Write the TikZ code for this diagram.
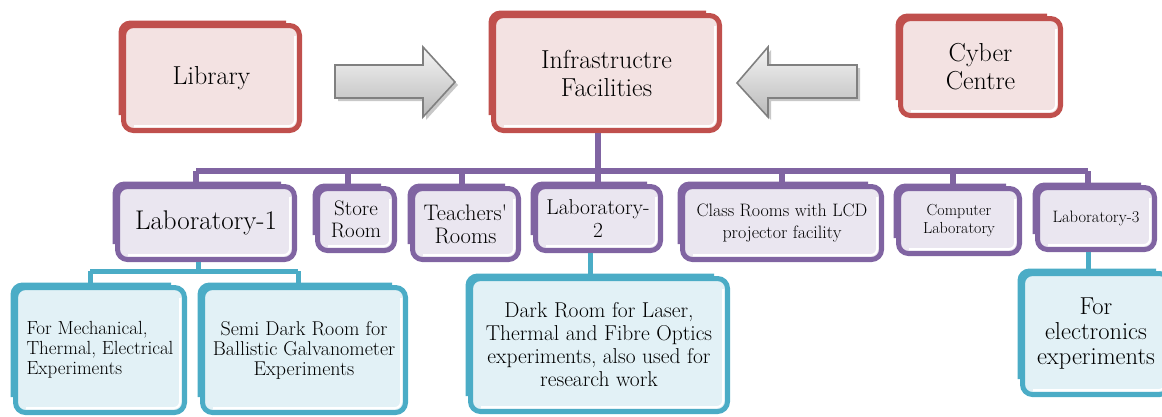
\documentclass[tikz,border=0pt]{standalone}
\definecolor{cred}{RGB}{192,80,77}
\definecolor{cpur}{RGB}{128,100,162}
\definecolor{ctea}{RGB}{75,172,198}
\definecolor{tred}{RGB}{243,226,226}
\definecolor{tpur}{RGB}{234,230,240}
\definecolor{ttea}{RGB}{226,241,246}
\definecolor{carr}{RGB}{128,128,128}
\definecolor{cshd}{RGB}{200,200,200}
% name, x0, y0, x1, y1, color, tint, node options, text
\newcommand\mkbox[9]{%
  \pgfmathsetmacro\bcx{(#2+#4)/2+1.5}%
  \pgfmathsetmacro\bcy{(#3+#5)/2+1.5}%
  \pgfmathsetmacro\bw{#4-#2-8}%
  \pgfmathsetmacro\bh{#5-#3-8}%
  \node[draw=#6, fill=#7, line width=5pt, rounded corners=10pt, inner sep=0pt,
        minimum width=\bw pt, minimum height=\bh pt, #8] (#1) at (\bcx,\bcy) {#9};
  \draw[white, line width=2pt, rounded corners=6pt] (#4-7,#3+16) -- (#4-7,#5-7) -- (#2+16,#5-7);
  \draw[#6, line width=4pt, rounded corners=10pt] (#2+2.5,#5-18) -- (#2+2.5,#3+2.5) -- (#4-16,#3+2.5);
}
\tikzset{
  pline/.style={cpur, line width=6pt},
  tline/.style={ctea, line width=5pt},
  blockarrow/.style={top color=gray!8, bottom color=gray!55, draw=carr, line width=1.6pt},
}
\begin{document}
\begin{tikzpicture}[x=1pt,y=-1pt]
\useasboundingbox (0,0) rectangle (1162,416);

% top row
\mkbox{lib}{118}{20}{302}{133}{cred}{tred}{align=center, font={\fontsize{26}{28}\selectfont}}{Library}
\mkbox{infra}{488}{10}{722}{133}{cred}{tred}{align=center, font={\fontsize{26}{28}\selectfont}}{Infrastructre\\Facilities}
\mkbox{cyber}{895}{13}{1063}{118}{cred}{tred}{align=center, font={\fontsize{26}{28}\selectfont}}{Cyber\\Centre}

% block arrows
\fill[cshd] (338,68) -- (426,68) -- (426,50) -- (458,85) -- (426,120) -- (426,101) -- (338,101) -- cycle;
\shade[blockarrow] (335,65) -- (423,65) -- (423,47) -- (455,82) -- (423,117) -- (423,98) -- (335,98) -- cycle;
\fill[cshd] (860,68) -- (771,68) -- (771,50) -- (740,86) -- (771,120) -- (771,101) -- (860,101) -- cycle;
\shade[blockarrow] (857,65) -- (768,65) -- (768,47) -- (737,83) -- (768,117) -- (768,98) -- (857,98) -- cycle;

% second row
\mkbox{lab1}{112}{181}{297}{262}{cpur}{tpur}{align=center, font={\fontsize{27}{28}\selectfont}}{Laboratory-1}
\mkbox{store}{312}{183}{397}{253}{cpur}{tpur}{align=center, font={\fontsize{21}{22}\selectfont}}{Store\\Room}
\mkbox{teach}{407}{183}{521}{262}{cpur}{tpur}{align=center, font={\fontsize{22.5}{23}\selectfont}}{Teachers\textquotesingle\\Rooms}
\mkbox{lab2}{530}{181}{663}{253}{cpur}{tpur}{align=center, font={\fontsize{21.5}{23}\selectfont}}{Laboratory-\\2}
\mkbox{class}{677}{181}{884}{262}{cpur}{tpur}{align=center, font={\fontsize{18}{22}\selectfont}}{Class Rooms with LCD\\projector facility}
\mkbox{comp}{893}{183}{1022}{256}{cpur}{tpur}{align=center, font={\fontsize{16}{18}\selectfont}}{Computer\\Laboratory}
\mkbox{lab3}{1032}{182}{1157}{252}{cpur}{tpur}{align=center, font={\fontsize{16.5}{18}\selectfont}}{Laboratory-3}

% third row
\mkbox{fa}{10}{282}{187}{415}{ctea}{ttea}{align=left, font={\fontsize{19}{20}\selectfont}}{For Mechanical,\\Thermal, Electrical\\Experiments}
\mkbox{fb}{197}{282}{408}{415}{ctea}{ttea}{align=center, font={\fontsize{20}{20}\selectfont}}{Semi Dark Room for\\Ballistic Galvanometer\\Experiments}
\mkbox{dark}{465}{273}{730}{414}{ctea}{ttea}{align=center, font={\fontsize{21.5}{23}\selectfont}}{Dark Room for Laser,\\Thermal and Fibre Optics\\experiments, also used for\\research work}
\mkbox{elec}{1017}{268}{1172}{397}{ctea}{ttea}{align=center, font={\fontsize{24.5}{25}\selectfont}}{For\\electronics\\experiments}

% purple connectors
\coordinate (bus) at (598,171);
\draw[pline] (infra.south -| bus) -- (bus);
\draw[pline] ([xshift=-10pt]lab1.north |- bus) -- ([xshift=-8pt]lab3.north |- bus);
\foreach \n/\s in {lab1/-10,store/-8,teach/-4,lab2/0,class/0,comp/-6,lab3/-8}
  \draw[pline] ([xshift=\s pt]\n.north |- bus) -- ([xshift=\s pt]\n.north);

% teal connectors
\coordinate (tbus) at (0,271);
\draw[tline] ([xshift=-8pt]lab1.south) -- ([xshift=-8pt]lab1.south |- tbus);
\draw[tline] ([xshift=-10pt]fa.north |- tbus) -- ([xshift=-6pt]fb.north |- tbus);
\draw[tline] ([xshift=-10pt]fa.north |- tbus) -- ([xshift=-10pt]fa.north);
\draw[tline] ([xshift=-6pt]fb.north |- tbus) -- ([xshift=-6pt]fb.north);
\draw[tline] ([xshift=-8pt]lab2.south) -- ([xshift=-8pt]lab2.south |- dark.north);
\draw[tline] ([xshift=-8pt]lab3.south) -- ([xshift=-8pt]lab3.south |- elec.north);
\end{tikzpicture}
\end{document}
